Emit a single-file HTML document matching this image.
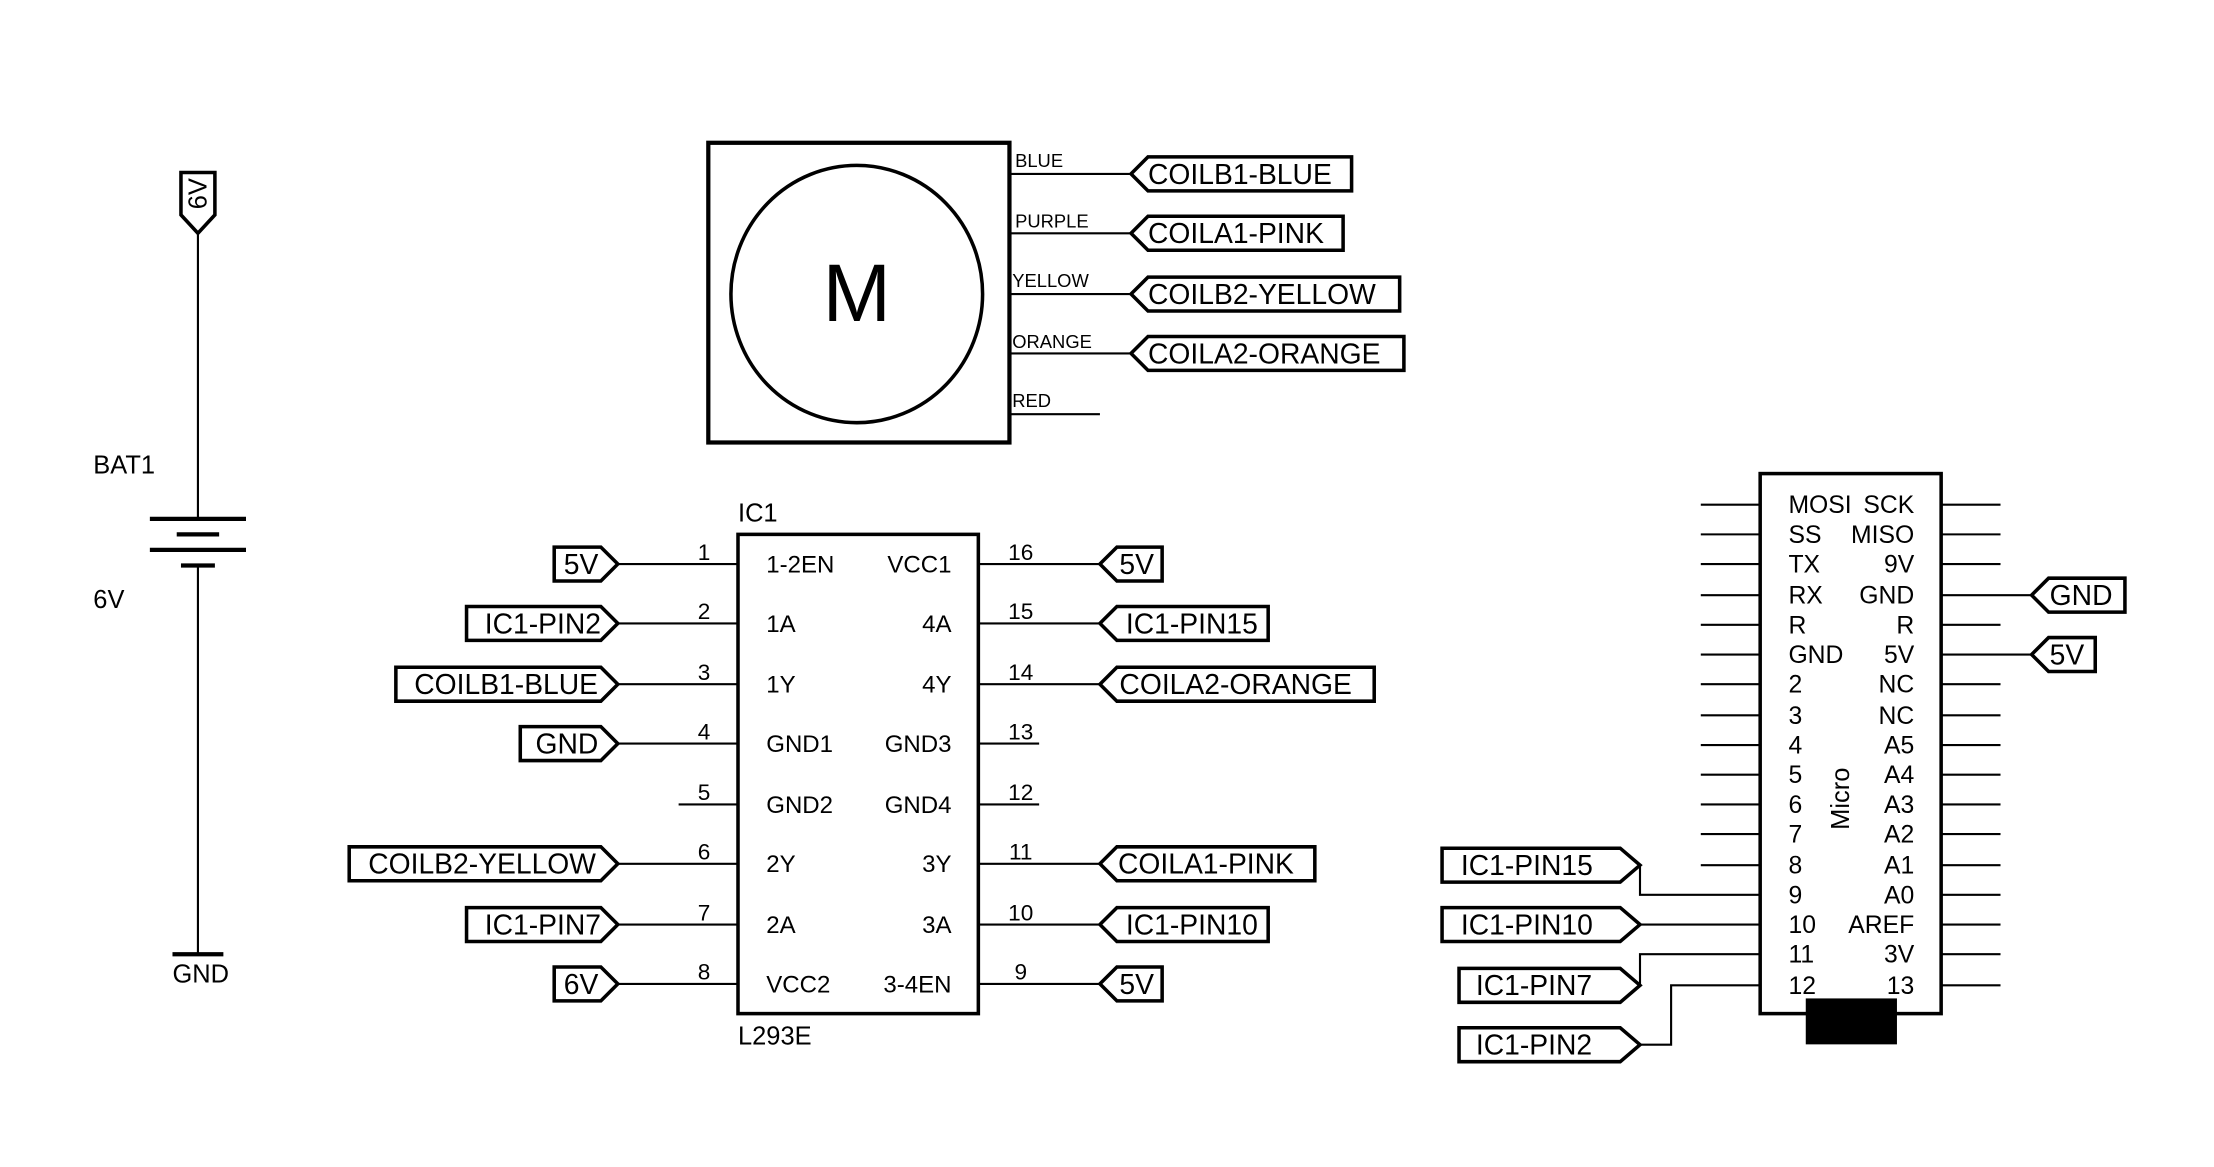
<!DOCTYPE html>
<html><head><meta charset="utf-8"><style>html,body{margin:0;padding:0;background:#fff}svg{display:block}</style></head><body>
<svg width="2214" height="1167" viewBox="0 0 1566 825.5" preserveAspectRatio="none" xmlns="http://www.w3.org/2000/svg" font-family="Liberation Sans, sans-serif">
<g stroke="#000" fill="none" stroke-width="1.5">
<line x1="140" y1="165" x2="140" y2="367"/>
<line x1="106" y1="367" x2="174" y2="367" stroke-width="3"/>
<line x1="125" y1="378" x2="155" y2="378" stroke-width="3"/>
<line x1="106" y1="389" x2="174" y2="389" stroke-width="3"/>
<line x1="128" y1="400" x2="152" y2="400" stroke-width="3"/>
<line x1="140" y1="400" x2="140" y2="675"/>
<line x1="122" y1="675" x2="158" y2="675" stroke-width="3"/>
<polygon points="128,122 152,122 152,152 140,165 128,152" stroke-width="2.5"/>
<rect x="501" y="101" width="213" height="212" stroke-width="3"/>
<ellipse cx="606" cy="208" rx="89" ry="91" stroke-width="2.5"/>
<line x1="714" y1="123" x2="800" y2="123"/>
<line x1="714" y1="165" x2="800" y2="165"/>
<line x1="714" y1="208" x2="800" y2="208"/>
<line x1="714" y1="250" x2="800" y2="250"/>
<line x1="714" y1="293" x2="778" y2="293"/>
<g stroke-width="2.5">
<polygon points="800,123 812,111 956,111 956,135 812,135"/>
<polygon points="800,165 812,153 950,153 950,177 812,177"/>
<polygon points="800,208 812,196 990,196 990,220 812,220"/>
<polygon points="800,250 812,238 993,238 993,262 812,262"/>
</g>
<rect x="522" y="378" width="170" height="339" stroke-width="2.5"/>
<line x1="437" y1="399" x2="522" y2="399"/>
<line x1="437" y1="441" x2="522" y2="441"/>
<line x1="437" y1="484" x2="522" y2="484"/>
<line x1="437" y1="526" x2="522" y2="526"/>
<line x1="480" y1="569" x2="522" y2="569"/>
<line x1="437" y1="611" x2="522" y2="611"/>
<line x1="437" y1="654" x2="522" y2="654"/>
<line x1="437" y1="696" x2="522" y2="696"/>
<line x1="692" y1="399" x2="778" y2="399"/>
<line x1="692" y1="441" x2="778" y2="441"/>
<line x1="692" y1="484" x2="778" y2="484"/>
<line x1="692" y1="526" x2="735" y2="526"/>
<line x1="692" y1="569" x2="735" y2="569"/>
<line x1="692" y1="611" x2="778" y2="611"/>
<line x1="692" y1="654" x2="778" y2="654"/>
<line x1="692" y1="696" x2="778" y2="696"/>
<g stroke-width="2.5">
<polygon points="392,387 425,387 437,399 425,411 392,411"/>
<polygon points="330,429 425,429 437,441 425,453 330,453"/>
<polygon points="280,472 425,472 437,484 425,496 280,496"/>
<polygon points="368,514 425,514 437,526 425,538 368,538"/>
<polygon points="247,599 425,599 437,611 425,623 247,623"/>
<polygon points="330,642 425,642 437,654 425,666 330,666"/>
<polygon points="392,684 425,684 437,696 425,708 392,708"/>
<polygon points="778,399 790,387 822,387 822,411 790,411"/>
<polygon points="778,441 790,429 897,429 897,453 790,453"/>
<polygon points="778,484 790,472 972,472 972,496 790,496"/>
<polygon points="778,611 790,599 930,599 930,623 790,623"/>
<polygon points="778,654 790,642 897,642 897,666 790,666"/>
<polygon points="778,696 790,684 822,684 822,708 790,708"/>
</g>
<rect x="1245" y="335" width="128" height="382" stroke-width="2.5"/>
<rect x="1278" y="707" width="63" height="31" fill="#000"/>
<path d="M1203 357H1245M1203 378H1245M1203 399H1245M1203 421H1245M1203 442H1245M1203 463H1245M1203 484H1245M1203 506H1245M1203 527H1245M1203 548H1245M1203 569H1245M1203 590H1245M1203 612H1245"/>
<path d="M1373 357H1415M1373 378H1415M1373 399H1415M1373 442H1415M1373 484H1415M1373 506H1415M1373 527H1415M1373 548H1415M1373 569H1415M1373 590H1415M1373 612H1415M1373 633H1415M1373 654H1415M1373 675H1415M1373 697H1415"/>
<path d="M1373 421H1437M1373 463H1437"/>
<path d="M1160 612V633H1245M1160 654H1245M1160 697V675H1245M1160 739H1182V697H1245"/>
<g stroke-width="2.5">
<polygon points="1437,421 1449,409 1503,409 1503,433 1449,433"/>
<polygon points="1437,463 1449,451 1482,451 1482,475 1449,475"/>
<polygon points="1020,600 1146,600 1160,612 1146,624 1020,624"/>
<polygon points="1020,642 1146,642 1160,654 1146,666 1020,666"/>
<polygon points="1032,685 1146,685 1160,697 1146,709 1032,709"/>
<polygon points="1032,727 1146,727 1160,739 1146,751 1032,751"/>
</g>
</g>
<g fill="#000" font-size="18">
<text x="140" y="137" font-size="18" text-anchor="middle" transform="rotate(-90 140 137)" dy="6">6V</text>
<text x="66" y="335">BAT1</text>
<text x="66" y="430">6V</text>
<text x="142" y="695" text-anchor="middle">GND</text>
<text x="606" y="227" font-size="58" text-anchor="middle">M</text>
<g font-size="13">
<text x="718" y="118">BLUE</text>
<text x="718" y="161">PURPLE</text>
<text x="716" y="203">YELLOW</text>
<text x="716" y="246">ORANGE</text>
<text x="716" y="288">RED</text>
</g>
<g font-size="20">
<text x="812" y="130">COILB1-BLUE</text>
<text x="812" y="172">COILA1-PINK</text>
<text x="812" y="215">COILB2-YELLOW</text>
<text x="812" y="257">COILA2-ORANGE</text>
<text x="411" y="406" text-anchor="middle">5V</text>
<text x="384" y="448" text-anchor="middle">IC1-PIN2</text>
<text x="358" y="491" text-anchor="middle">COILB1-BLUE</text>
<text x="401" y="533" text-anchor="middle">GND</text>
<text x="341" y="618" text-anchor="middle">COILB2-YELLOW</text>
<text x="384" y="661" text-anchor="middle">IC1-PIN7</text>
<text x="411" y="703" text-anchor="middle">6V</text>
<text x="804" y="406" text-anchor="middle">5V</text>
<text x="843" y="448" text-anchor="middle">IC1-PIN15</text>
<text x="874" y="491" text-anchor="middle">COILA2-ORANGE</text>
<text x="853" y="618" text-anchor="middle">COILA1-PINK</text>
<text x="843" y="661" text-anchor="middle">IC1-PIN10</text>
<text x="804" y="703" text-anchor="middle">5V</text>
<text x="1472" y="428" text-anchor="middle">GND</text>
<text x="1462" y="470" text-anchor="middle">5V</text>
<text x="1080" y="619" text-anchor="middle">IC1-PIN15</text>
<text x="1080" y="661" text-anchor="middle">IC1-PIN10</text>
<text x="1085" y="704" text-anchor="middle">IC1-PIN7</text>
<text x="1085" y="746" text-anchor="middle">IC1-PIN2</text>
</g>
<text x="522" y="369">IC1</text>
<text x="522" y="739">L293E</text>
<g font-size="17">
<g text-anchor="middle" font-size="16">
<text x="498" y="396">1</text><text x="498" y="438">2</text><text x="498" y="481">3</text><text x="498" y="523">4</text><text x="498" y="566">5</text><text x="498" y="608">6</text><text x="498" y="651">7</text><text x="498" y="693">8</text>
<text x="722" y="396">16</text><text x="722" y="438">15</text><text x="722" y="481">14</text><text x="722" y="523">13</text><text x="722" y="566">12</text><text x="722" y="608">11</text><text x="722" y="651">10</text><text x="722" y="693">9</text>
</g>
<text x="542" y="405">1-2EN</text><text x="542" y="447">1A</text><text x="542" y="490">1Y</text><text x="542" y="532">GND1</text><text x="542" y="575">GND2</text><text x="542" y="617">2Y</text><text x="542" y="660">2A</text><text x="542" y="702">VCC2</text>
<g text-anchor="end">
<text x="673" y="405">VCC1</text><text x="673" y="447">4A</text><text x="673" y="490">4Y</text><text x="673" y="532">GND3</text><text x="673" y="575">GND4</text><text x="673" y="617">3Y</text><text x="673" y="660">3A</text><text x="673" y="702">3-4EN</text>
</g>
</g>
<g font-size="17.5">
<text x="1265" y="363">MOSI</text><text x="1265" y="384">SS</text><text x="1265" y="405">TX</text><text x="1265" y="427">RX</text><text x="1265" y="448">R</text><text x="1265" y="469">GND</text><text x="1265" y="490">2</text><text x="1265" y="512">3</text><text x="1265" y="533">4</text><text x="1265" y="554">5</text><text x="1265" y="575">6</text><text x="1265" y="596">7</text><text x="1265" y="618">8</text><text x="1265" y="639">9</text><text x="1265" y="660">10</text><text x="1265" y="681">11</text><text x="1265" y="703">12</text>
<g text-anchor="end">
<text x="1354" y="363">SCK</text><text x="1354" y="384">MISO</text><text x="1354" y="405">9V</text><text x="1354" y="427">GND</text><text x="1354" y="448">R</text><text x="1354" y="469">5V</text><text x="1354" y="490">NC</text><text x="1354" y="512">NC</text><text x="1354" y="533">A5</text><text x="1354" y="554">A4</text><text x="1354" y="575">A3</text><text x="1354" y="596">A2</text><text x="1354" y="618">A1</text><text x="1354" y="639">A0</text><text x="1354" y="660">AREF</text><text x="1354" y="681">3V</text><text x="1354" y="703">13</text>
</g>
<text x="1302" y="565" font-size="18" text-anchor="middle" transform="rotate(-90 1302 565)" dy="6">Micro</text>
</g>
</g>
</svg>
</body></html>
